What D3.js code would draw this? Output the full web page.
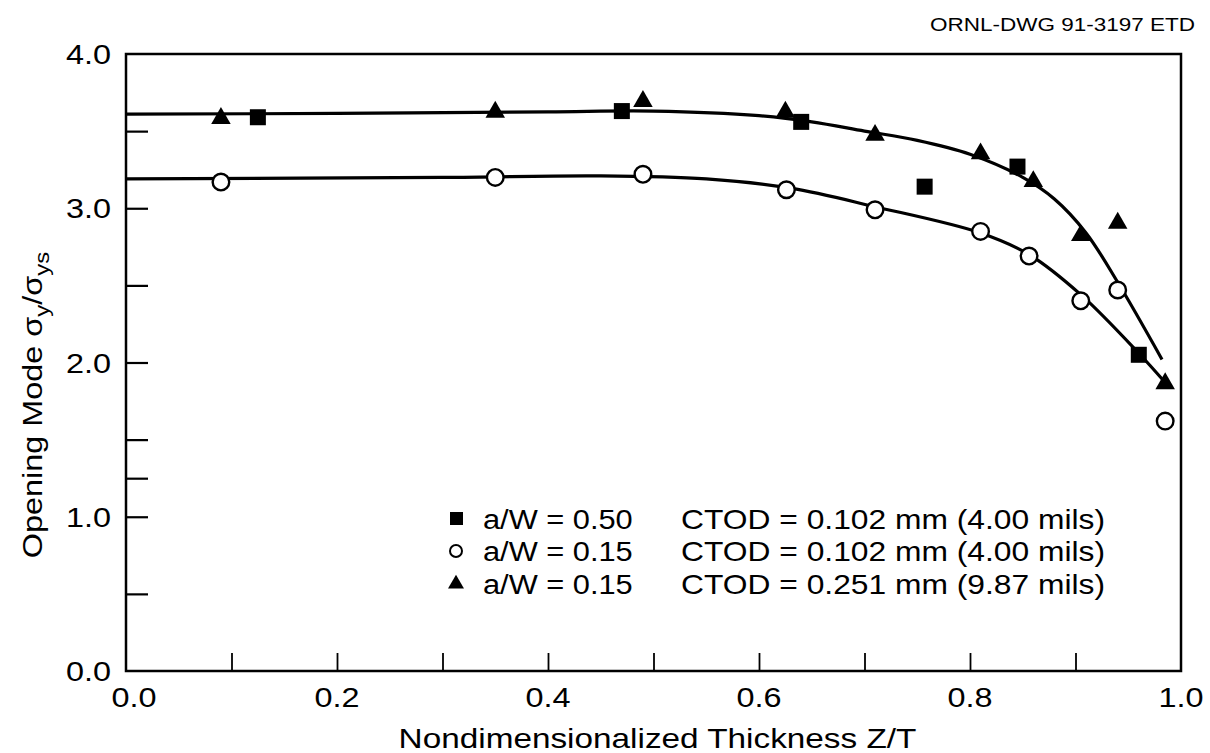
<!DOCTYPE html>
<html>
<head>
<meta charset="utf-8">
<script src="https://cdn.jsdelivr.net/npm/d3@7"></script>
<style>
  html, body { margin: 0; padding: 0; background: #fff; }
  svg { display: block; font-family: "Liberation Sans", Arial, Helvetica, sans-serif; }
</style>
</head>
<body>
<svg id="chart" width="1210" height="753"></svg>
<script>
// Opening-mode stress through the thickness, three crack/CTOD cases
const xTickValues = [0.1, 0.2, 0.3, 0.4, 0.5, 0.6, 0.7, 0.8, 0.9];
const xTickLabels = [0.0, 0.2, 0.4, 0.6, 0.8, 1.0];
const yTickValues = [0.5, 1.0, 1.25, 1.5, 2.0, 2.5, 3.0, 3.5];
const yTickLabels = [0.0, 1.0, 2.0, 3.0, 4.0];

// a/W = 0.50, CTOD = 0.102 mm (squares)
const squareZ = [0.125, 0.47, 0.64, 0.757, 0.845, 0.96];
const squareS = [3.59, 3.63, 3.56, 3.14, 3.27, 2.05];

// a/W = 0.15, CTOD = 0.102 mm (open circles)
const circleZ = [0.09, 0.35, 0.49, 0.626, 0.71, 0.81, 0.856, 0.905, 0.94, 0.985];
const circleS = [3.17, 3.20, 3.22, 3.12, 2.99, 2.85, 2.69, 2.40, 2.47, 1.62];

// a/W = 0.15, CTOD = 0.251 mm (filled triangles)
const triZ = [0.09, 0.35, 0.49, 0.625, 0.71, 0.81, 0.86, 0.905, 0.94, 0.985];
const triS = [3.59, 3.63, 3.70, 3.63, 3.48, 3.36, 3.18, 2.83, 2.91, 1.87];

// Faired curves through the results
const upperCurveZ = [0.0, 0.2, 0.4, 0.5, 0.6, 0.65, 0.7, 0.75, 0.8, 0.85, 0.88, 0.91, 0.94, 0.982];
const upperCurveS = [3.61, 3.615, 3.625, 3.63, 3.60, 3.56, 3.50, 3.44, 3.35, 3.20, 3.06, 2.84, 2.52, 2.02];
const lowerCurveZ = [0.0, 0.3, 0.45, 0.55, 0.63, 0.71, 0.81, 0.856, 0.905, 0.96, 0.985];
const lowerCurveS = [3.19, 3.20, 3.21, 3.19, 3.13, 3.01, 2.84, 2.70, 2.44, 2.06, 1.87];

const legendLabels = [
  ["a/W = 0.50", "CTOD = 0.102 mm (4.00 mils)"],
  ["a/W = 0.15", "CTOD = 0.102 mm (4.00 mils)"],
  ["a/W = 0.15", "CTOD = 0.251 mm (9.87 mils)"]
];

const svg = d3.select("#chart");
const plotL = 126, plotR = 1181, plotT = 54, plotB = 671;

const x = d3.scaleLinear().domain([0, 1]).range([plotL, plotR]);
const y = d3.scaleLinear().domain([0, 4]).range([plotB, plotT]);

// Text set in a slightly extended face
function label(parent, px, py, str, size, anchor, stretch) {
  return parent.append("text")
    .attr("transform", `translate(${px},${py}) scale(${stretch},1)`)
    .attr("text-anchor", anchor)
    .attr("font-size", size)
    .text(str);
}

// Drawing number
label(svg, 1195, 31, "ORNL-DWG 91-3197 ETD", 18, "end", 1.25);

// Inward ticks on the bottom and left edges
const xAxis = d3.axisBottom(x).tickValues(xTickValues).tickSize(-18).tickFormat("");
svg.append("g").attr("transform", `translate(0,${plotB})`).call(xAxis)
  .call(g => g.select(".domain").remove())
  .call(g => g.selectAll(".tick line").attr("stroke", "#000").attr("stroke-width", 1.8));

const yAxis = d3.axisLeft(y).tickValues(yTickValues).tickSize(-22).tickFormat("");
svg.append("g").attr("transform", `translate(${plotL},0)`).call(yAxis)
  .call(g => g.select(".domain").remove())
  .call(g => g.selectAll(".tick line").attr("stroke", "#000").attr("stroke-width", 2.2));

// Frame
svg.append("rect")
  .attr("x", plotL).attr("y", plotT)
  .attr("width", plotR - plotL).attr("height", plotB - plotT)
  .attr("fill", "none").attr("stroke", "#000").attr("stroke-width", 2.5);

// Tick labels
const xLab = svg.append("g");
xTickLabels.forEach(d => label(xLab, x(d) + (d === 0 ? 8 : 0), 707, d.toFixed(1), 27, "middle", 1.2));
const yLab = svg.append("g");
yTickLabels.forEach(d => label(yLab, 111, y(d) + 10, d.toFixed(1), 27, "end", 1.2));

// Axis titles
label(svg, (plotL + plotR) / 2 + 4, 748, "Nondimensionalized Thickness Z/T", 28, "middle", 1.19);

const yTitle = svg.append("text")
  .attr("transform", "translate(42,405) rotate(-90) scale(1.2,1)")
  .attr("text-anchor", "middle")
  .attr("font-size", 27);
yTitle.append("tspan").text("Opening Mode σ");
yTitle.append("tspan").attr("font-size", 20).attr("dy", 7).text("y");
yTitle.append("tspan").attr("dy", -7).text("/σ");
yTitle.append("tspan").attr("font-size", 20).attr("dy", 7).text("ys");

// Curves
const line = d3.line().x(d => x(d[0])).y(d => y(d[1])).curve(d3.curveCatmullRom.alpha(0.5));
[[upperCurveZ, upperCurveS], [lowerCurveZ, lowerCurveS]].forEach(([zs, ss]) => {
  svg.append("path")
    .datum(d3.zip(zs, ss))
    .attr("d", line)
    .attr("fill", "none")
    .attr("stroke", "#000")
    .attr("stroke-width", 3.2);
});

// Markers
const sqSize = 16;
const triPath = d3.symbol().type(d3.symbolTriangle).size(165);

svg.append("g").selectAll("rect").data(d3.zip(squareZ, squareS)).join("rect")
  .attr("x", d => x(d[0]) - sqSize / 2).attr("y", d => y(d[1]) - sqSize / 2)
  .attr("width", sqSize).attr("height", sqSize)
  .attr("fill", "#000");

svg.append("g").selectAll("circle").data(d3.zip(circleZ, circleS)).join("circle")
  .attr("cx", d => x(d[0])).attr("cy", d => y(d[1]))
  .attr("r", 8.3)
  .attr("fill", "#fff").attr("stroke", "#000").attr("stroke-width", 2.4);

svg.append("g").selectAll("path").data(d3.zip(triZ, triS)).join("path")
  .attr("transform", d => `translate(${x(d[0])},${y(d[1]) + 1})`)
  .attr("d", triPath)
  .attr("fill", "#000");

// Legend
const legend = svg.append("g");
const rowY = [519, 551, 584];
legendLabels.forEach((lab, i) => {
  const cy = rowY[i];
  if (i === 0) {
    legend.append("rect").attr("x", 450).attr("y", cy - 7).attr("width", 13).attr("height", 13).attr("fill", "#000");
  } else if (i === 1) {
    legend.append("circle").attr("cx", 456).attr("cy", cy).attr("r", 6).attr("fill", "#fff").attr("stroke", "#000").attr("stroke-width", 2);
  } else {
    legend.append("path").attr("transform", `translate(456,${cy})`).attr("d", d3.symbol().type(d3.symbolTriangle).size(110)).attr("fill", "#000");
  }
  label(legend, 483, cy + 10, lab[0], 28, "start", 1.1);
  label(legend, 1105, cy + 10, lab[1], 28, "end", 1.135);
});
</script>
</body>
</html>
